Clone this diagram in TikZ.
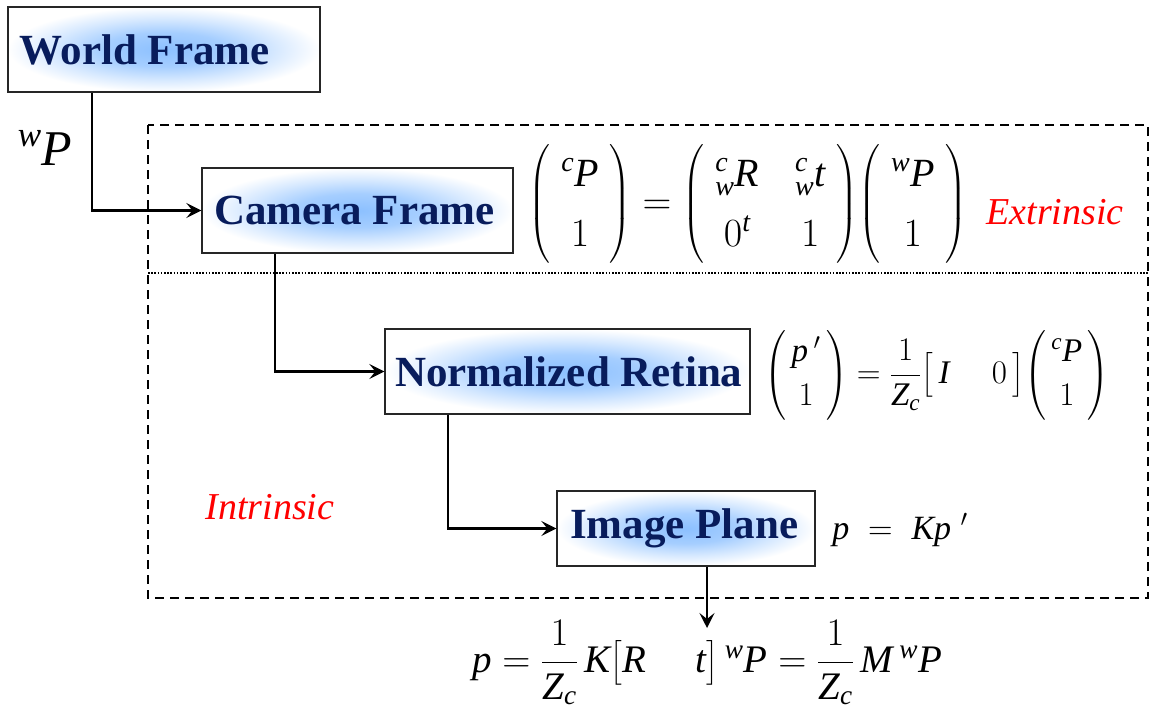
\documentclass[tikz,border=0pt]{standalone}
\usepackage{fix-cm}
\usepackage{amsmath}
\usepackage{fontspec}
\setmainfont{Liberation Serif}
\newfontfamily\libser{Liberation Serif}[NFSSFamily=libser]
\DeclareSymbolFont{libit}{TU}{libser}{m}{it}
\DeclareSymbolFont{libup}{TU}{libser}{m}{n}
\DeclareMathSymbol{P}{\mathalpha}{libit}{`P}
\DeclareMathSymbol{R}{\mathalpha}{libit}{`R}
\DeclareMathSymbol{Z}{\mathalpha}{libit}{`Z}
\DeclareMathSymbol{I}{\mathalpha}{libit}{`I}
\DeclareMathSymbol{K}{\mathalpha}{libit}{`K}
\DeclareMathSymbol{M}{\mathalpha}{libit}{`M}
\DeclareMathSymbol{t}{\mathalpha}{libit}{`t}
\DeclareMathSymbol{p}{\mathalpha}{libit}{`p}
\DeclareMathSymbol{w}{\mathalpha}{libit}{`w}
\DeclareMathSymbol{c}{\mathalpha}{libit}{`c}
\DeclareMathSymbol{0}{\mathord}{libup}{`0}
\DeclareMathSymbol{1}{\mathord}{libup}{`1}
\usetikzlibrary{arrows.meta}
\definecolor{navy}{RGB}{8,28,92}
\definecolor{glowc}{RGB}{140,192,255}
\definecolor{lblred}{RGB}{255,0,0}
\pgfdeclareradialshading{boxglow}{\pgfpoint{0bp}{0bp}}{color(0bp)=(glowc);color(10bp)=(glowc!78!white);color(18bp)=(glowc!35!white);color(25bp)=(white);color(50bp)=(white)}
\tikzset{
  box/.style={draw=black!85, line width=1.3pt, shading=boxglow, inner sep=0pt,
    minimum height=85pt, text=navy, font=\fontsize{43}{50}\selectfont\bfseries},
  conn/.style={line width=2.2pt, line join=miter, -{Stealth[length=15pt,width=15pt,inset=6pt]}},
  eqn/.style={inner sep=0pt, text=black},
  lbl/.style={inner sep=0pt, text=lblred, font=\fontsize{38}{44}\selectfont\itshape},
}
\begin{document}
\begin{tikzpicture}[x=1pt,y=-1pt]
\useasboundingbox (0,0) rectangle (1155,710);
% dashed frame and dotted divider
\coordinate (fa) at (148,125);
\coordinate (fb) at (1148,598);
\draw[line width=2pt, dash pattern=on 9pt off 6pt] (fa) rectangle (fb);
\coordinate (da) at (148,273);
\coordinate (db) at (1148,273);
\draw[line width=1.5pt, dash pattern=on 1.6pt off 1.6pt] (da) -- (db);
% boxes
\node[box, minimum width=312pt] (wf) at (164,49.5) {\makebox[312pt][l]{\hspace{12pt}World Frame}};
\node[box, minimum width=311pt] (cf) at (357.5,210.5) {\makebox[311pt][l]{\hspace{12pt}Camera Frame}};
\node[box, minimum width=365pt] (nr) at (567.5,371.5) {\makebox[365pt][l]{\hspace{10pt}Normalized Retina}};
\node[box, minimum width=258pt, minimum height=75pt] (ip) at (686,528.5) {\makebox[258pt][l]{\hspace{13pt}Image Plane}};
% connectors
\draw[conn] ([xshift=85pt]wf.south west) |- (cf.west);
\draw[conn] ([xshift=74pt]cf.south west) |- (nr.west);
\draw[conn] ([xshift=64pt]nr.south west) |- (ip.west);
\coordinate (bend) at (707,628);
\draw[conn] (ip.south -| bend) -- (bend);
% labels
\node[eqn, font=\fontsize{50}{60}\selectfont] (wp) at (45,148) {${}^{w}P$};
\node[lbl] (ext) at (1055,212) {Extrinsic};
\node[lbl] (int) at (270,507) {Intrinsic};
% equations
\node[eqn, font=\fontsize{40}{48}\selectfont] (eq1) at (748,204)
  {\renewcommand\arraystretch{1.25}$\begin{pmatrix} \;{}^{c}P\; \\ 1 \end{pmatrix} = {\setlength\arraycolsep{18pt}\begin{pmatrix} \;{}^{c}_{w}R & {}^{c}_{w}t\; \\ \;0^{t} & 1\; \end{pmatrix}}\!\begin{pmatrix} \;{}^{w}P\; \\ 1 \end{pmatrix}$};
\node[eqn, font=\fontsize{33}{40}\selectfont] (eq2) at (937,375)
  {\renewcommand\arraystretch{1.1}$\begin{pmatrix} \,p\,'\, \\ 1 \end{pmatrix} = \dfrac{1}{Z_c}\bigl[\,I \quad\; 0\,\bigr]\!\begin{pmatrix} \,{}^{c}P\, \\ 1 \end{pmatrix}$};
\node[eqn, font=\fontsize{34}{40}\selectfont] (eq3) at (900,530) {$p\;=\;Kp\;'$};
\node[eqn, font=\fontsize{39}{46}\selectfont] (eq4) at (707,663)
  {$p = \dfrac{1}{Z_c}\,K\bigl[R \quad\; t\bigr]\,{}^{w}P = \dfrac{1}{Z_c}\,M\,{}^{w}P$};
\end{tikzpicture}
\end{document}
